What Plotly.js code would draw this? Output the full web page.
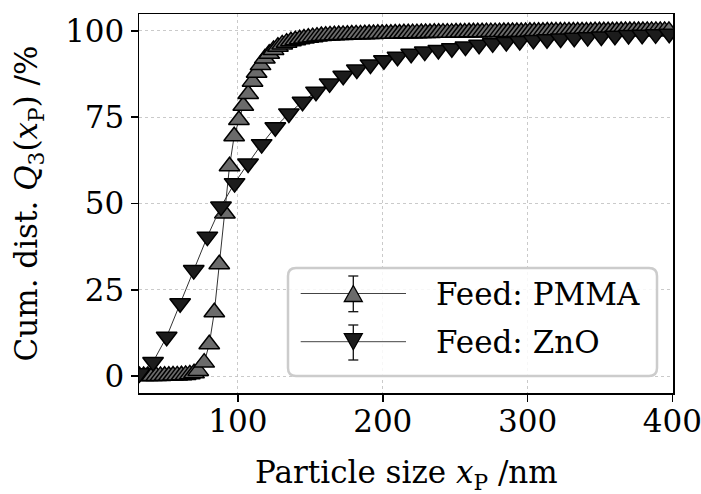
<!DOCTYPE html>
<html>
<head>
<meta charset="utf-8">
<script src="https://cdn.plot.ly/plotly-3.0.1.min.js"></script>
<style>html,body{margin:0;padding:0;background:#fff;}#chart{width:701px;height:494px;}</style>
</head>
<body>
<div id="chart"></div>
<script>
// ---- data ----
const pmmaX = [32.0,34.9,37.8,40.7,43.6,46.5,49.4,52.3,55.2,58.1,61.0,63.9,66.8,69.7,
  72.6,76.7,80.2,83.7,87.1,91.0,94.2,97.4,100.7,103.7,107.1,110.1,112.9,115.6,118.6,
  121.6,124.6,127.6,130.6,133.6,136.6,139.6,142.6,145.6,148.6,151.6,154.6,157.6,160.6,163.6,166.6,169.6,172.6,175.6,178.6,
  181.6,184.6,187.6,190.6,193.6,196.6,199.6,202.6,205.6,208.6,211.6,214.6,217.6,220.6,223.6,226.6,229.6,232.6,235.6,238.6,
  241.6,244.6,247.6,250.6,253.6,256.6,259.6,262.6,265.6,268.6,271.6,274.6,277.6,280.6,283.6,286.6,289.6,292.6,295.6,298.6,
  301.6,304.6,307.6,310.6,313.6,316.6,319.6,322.6,325.6,328.6,331.6,334.6,337.6,340.6,343.6,346.6,349.6,352.6,355.6,358.6,
  361.6,364.6,367.6,370.6,373.6,376.6,379.6,382.6,385.6,388.6,391.6,394.6,397.6];
const pmmaY = [0.0,0.0,0.0,0.0,0.0,0.05,0.1,0.1,0.15,0.2,0.25,0.35,0.5,0.8,
  1.5,3.9,9.2,18.5,32.4,47.1,60.8,69.5,74.2,78.3,81.7,85.3,87.9,90.1,92.0,
  93.4,94.5,95.4,96.1,96.6,97.0,97.3,97.6,97.8,98.0,98.2,98.35,98.5,98.6,98.7,98.75,98.8,98.85,98.9,98.95,
  99.0,99.0,99.05,99.1,99.1,99.15,99.15,99.2,99.2,99.25,99.25,99.3,99.3,99.35,99.35,99.4,99.4,99.4,99.45,99.45,
  99.5,99.5,99.5,99.55,99.55,99.55,99.6,99.6,99.6,99.6,99.65,99.65,99.65,99.65,99.7,99.7,99.7,99.7,99.7,99.7,
  99.75,99.75,99.75,99.75,99.8,99.8,99.8,99.8,99.8,99.85,99.85,99.85,99.85,99.85,99.85,99.9,99.9,99.9,99.9,99.9,
  99.9,99.95,99.95,99.95,99.95,99.95,99.95,100.0,100.0,100.0,100.0,100.0,100.0];

const znoX = [32.0,41.4,50.8,60.1,69.5,78.9,88.3,97.7,107.0,116.4,125.8,135.2,144.6,153.9,163.3,172.7,182.1,191.5,200.8,210.2,
  219.6,229.0,238.4,247.7,257.1,266.5,275.9,285.3,294.6,304.0,313.4,322.8,332.2,341.5,350.9,360.3,369.7,379.1,388.4,397.8];
const znoY = [0.8,4.1,11.4,21.1,30.7,40.4,49.1,55.9,61.6,67.2,72.1,76.1,79.5,82.4,84.8,87.0,88.8,90.3,91.5,92.5,
  93.4,94.0,94.5,95.0,95.5,96.0,96.4,96.8,97.1,97.4,97.6,97.8,98.0,98.2,98.4,98.6,98.8,98.9,99.0,99.2];

const seriesNames = ["Feed: PMMA", "Feed: ZnO"];
const xTicks = [100, 200, 300, 400];
const yTicks = [0, 25, 50, 75, 100];
const xTitle = 'Particle size <i>x</i><sub>P</sub> /nm';
const yTitle = 'Cum. dist. <i>Q</i><sub>3</sub>(<i>x</i><sub>P</sub>) /%';

const FONT = "'DejaVu Serif', serif";
const FS = 31;

const traces = [
  {x: pmmaX, y: pmmaY, type: 'scatter', mode: 'lines+markers', name: seriesNames[0], showlegend: false,
   line: {color: '#333333', width: 1},
   marker: {symbol: 'triangle-up', size: 18, color: '#6b6b6b', line: {color: '#000000', width: 1.5}}},
  {x: znoX, y: znoY, type: 'scatter', mode: 'lines+markers', name: seriesNames[1], showlegend: false,
   line: {color: '#333333', width: 1},
   marker: {symbol: 'triangle-down', size: 18, color: '#1c1c1c', line: {color: '#000000', width: 1.5}}}
];

// custom legend drawn in pixel space of an overlay axis pair
const L = {x0: 288, x1: 657, y0: 268, y1: 376, r: 8};
const rows = [{y: 293.5, eb: [276, 311.7], up: true}, {y: 341.7, eb: [325, 360], up: false}];
const shapes = [];
shapes.push({type: 'path', xref: 'x2', yref: 'y2',
  path: `M ${L.x0+L.r},${L.y0} L ${L.x1-L.r},${L.y0} Q ${L.x1},${L.y0} ${L.x1},${L.y0+L.r} L ${L.x1},${L.y1-L.r} Q ${L.x1},${L.y1} ${L.x1-L.r},${L.y1} L ${L.x0+L.r},${L.y1} Q ${L.x0},${L.y1} ${L.x0},${L.y1-L.r} L ${L.x0},${L.y0+L.r} Q ${L.x0},${L.y0} ${L.x0+L.r},${L.y0} Z`,
  fillcolor: 'rgba(255,255,255,0.85)', line: {color: '#cccccc', width: 2.5}});
const mx = 353.3;
rows.forEach((rw, i) => {
  shapes.push({type: 'line', xref: 'x2', yref: 'y2', x0: 300.7, x1: 406, y0: rw.y, y1: rw.y, line: {color: '#444444', width: 1}});
  shapes.push({type: 'line', xref: 'x2', yref: 'y2', x0: mx, x1: mx, y0: rw.eb[0], y1: rw.eb[1], line: {color: '#111111', width: 1.3}});
  shapes.push({type: 'line', xref: 'x2', yref: 'y2', x0: mx-5, x1: mx+5, y0: rw.eb[0], y1: rw.eb[0], line: {color: '#111111', width: 1.3}});
  shapes.push({type: 'line', xref: 'x2', yref: 'y2', x0: mx-5, x1: mx+5, y0: rw.eb[1], y1: rw.eb[1], line: {color: '#111111', width: 1.3}});
  const hw = 9, hh = 8;
  const p = rw.up
    ? `M ${mx},${rw.y-hh} L ${mx+hw},${rw.y+hh} L ${mx-hw},${rw.y+hh} Z`
    : `M ${mx},${rw.y+hh} L ${mx+hw},${rw.y-hh} L ${mx-hw},${rw.y-hh} Z`;
  shapes.push({type: 'path', xref: 'x2', yref: 'y2', path: p,
    fillcolor: rw.up ? '#6b6b6b' : '#1c1c1c', line: {color: '#000000', width: 1.3}});
});
const annotations = rows.map((rw, i) => ({
  xref: 'x2', yref: 'y2', x: 434, y: rw.y, xanchor: 'left', yanchor: 'middle', showarrow: false,
  text: seriesNames[i], font: {family: FONT, size: FS, color: '#000'}
}));
// x-axis title placed as an annotation for exact vertical position
annotations.push({xref: 'paper', yref: 'paper', x: 0.5, y: (393 - 474) / 379, xanchor: 'center', yanchor: 'middle',
  showarrow: false, text: xTitle, font: {family: FONT, size: FS, color: '#000'}});

const layout = {
  width: 701, height: 494,
  margin: {l: 139, r: 28, t: 14, b: 101, pad: 0},
  paper_bgcolor: '#ffffff', plot_bgcolor: '#ffffff',
  font: {family: FONT, size: FS, color: '#000'},
  xaxis: {
    range: [31.7, 400.4], tickvals: xTicks, ticktext: xTicks.map(String),
    ticks: 'outside', ticklen: 7, tickwidth: 1.5, tickcolor: '#000',
    showline: true, linecolor: '#000', linewidth: 1.5, mirror: true,
    showgrid: true, gridcolor: '#bdbdbd', gridwidth: 0.8, griddash: 'dot',
    zeroline: false, tickfont: {family: FONT, size: FS}, ticklabelstandoff: -7,
    ticklabeloverflow: 'allow'
  },
  yaxis: {
    range: [-4.9, 104.9], tickvals: yTicks, ticktext: yTicks.map(String),
    ticks: 'outside', ticklen: 7, tickwidth: 1.5, tickcolor: '#000',
    showline: true, linecolor: '#000', linewidth: 1.5, mirror: true,
    showgrid: true, gridcolor: '#bdbdbd', gridwidth: 0.8, griddash: 'dot',
    zeroline: false, tickfont: {family: FONT, size: FS}, ticklabeloverflow: 'allow',
    title: {text: yTitle, font: {family: FONT, size: FS}, standoff: 18}
  },
  xaxis2: {overlaying: 'x', range: [139, 673], visible: false, fixedrange: true},
  yaxis2: {overlaying: 'y', range: [393, 14], visible: false, fixedrange: true},
  shapes: shapes,
  annotations: annotations,
  showlegend: false
};

// invisible trace that activates the overlay axes used by the hand-drawn legend
traces.push({x: [139], y: [393], xaxis: 'x2', yaxis: 'y2', mode: 'markers', marker: {opacity: 0}, hoverinfo: 'skip', showlegend: false});

Plotly.newPlot('chart', traces, layout, {staticPlot: true, displayModeBar: false});
</script>
</body>
</html>
